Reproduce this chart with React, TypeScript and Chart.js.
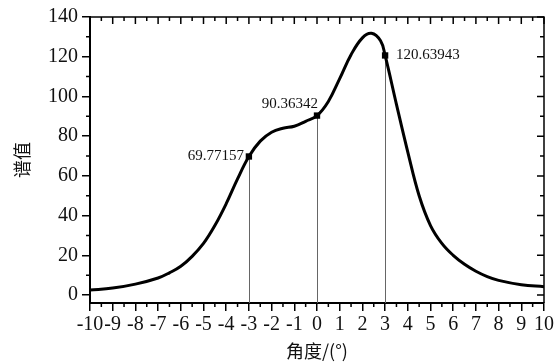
import React, { useEffect, useRef } from "react";
import { Chart, registerables } from "chart.js";

Chart.register(...registerables);

const angles = [-10, -9, -8, -7, -6.5, -6, -5.5, -5, -4.5, -4, -3.5, -3, -2.5, -2, -1.5, -1, -0.5, 0, 0.5, 1, 1.5, 2, 2.4, 2.8, 3, 3.5, 4, 4.5, 5, 5.5, 6, 6.5, 7, 7.5, 8, 9, 10];
const spectrum = [2.5, 3.5, 5.5, 8.6, 11.2, 14.5, 19.5, 26, 35, 46, 58.5, 69.77157, 77.5, 82, 84, 85, 87.5, 90.36342, 97.5, 109, 121, 129.5, 131.8, 128, 120.63943, 96, 72, 50, 35, 26, 20, 15.5, 12, 9.3, 7.4, 5.2, 4.2];

const markerAngles = [-3, 0, 3];
const markerValues = [69.77157, 90.36342, 120.63943];
const markerLabels = ["69.77157", "90.36342", "120.63943"];

const xTicks = [-10, -9, -8, -7, -6, -5, -4, -3, -2, -1, 0, 1, 2, 3, 4, 5, 6, 7, 8, 9, 10];
const yTicks = [0, 20, 40, 60, 80, 100, 120, 140];

const SERIF = "'Liberation Serif', 'Times New Roman', serif";

const axesPlugin = {
  id: "axesDecor",
  beforeDatasetsDraw(chart: any) {
    const { ctx, chartArea, scales } = chart;
    const x = scales.x, y = scales.y;
    ctx.save();
    ctx.strokeStyle = "#666";
    ctx.lineWidth = 1;
    markerAngles.forEach((a, i) => {
      const px = Math.round(x.getPixelForValue(a)) + 0.5;
      ctx.beginPath();
      ctx.moveTo(px, y.getPixelForValue(markerValues[i]));
      ctx.lineTo(px, chartArea.bottom);
      ctx.stroke();
    });
    ctx.restore();
  },
  afterDraw(chart: any) {
    const { ctx, chartArea, scales } = chart;
    const x = scales.x, y = scales.y;
    const { left, right, top, bottom } = chartArea;
    ctx.save();
    ctx.strokeStyle = "#000";
    ctx.lineWidth = 1.5;
    ctx.beginPath();
    ctx.moveTo(left, top);
    ctx.lineTo(right, top);
    ctx.lineTo(right, bottom);
    ctx.stroke();
    const xMinor: number[] = [];
    for (let i = 0; i < xTicks.length - 1; i++) xMinor.push((xTicks[i] + xTicks[i + 1]) / 2);
    ctx.beginPath();
    xMinor.forEach((v) => {
      const px = x.getPixelForValue(v);
      ctx.moveTo(px, bottom);
      ctx.lineTo(px, bottom + 4);
      ctx.moveTo(px, top);
      ctx.lineTo(px, top + 4);
    });
    xTicks.forEach((v) => {
      const px = x.getPixelForValue(v);
      ctx.moveTo(px, top);
      ctx.lineTo(px, top + 7);
    });
    const yMinor: number[] = [];
    for (let i = 0; i < yTicks.length - 1; i++) yMinor.push((yTicks[i] + yTicks[i + 1]) / 2);
    yMinor.forEach((v) => {
      const py = y.getPixelForValue(v);
      ctx.moveTo(left, py);
      ctx.lineTo(left - 4, py);
      ctx.moveTo(right, py);
      ctx.lineTo(right - 4, py);
    });
    yTicks.forEach((v) => {
      const py = y.getPixelForValue(v);
      ctx.moveTo(right, py);
      ctx.lineTo(right - 7, py);
    });
    ctx.stroke();

    ctx.fillStyle = "#111";
    ctx.font = "15px " + SERIF;
    markerAngles.forEach((a, i) => {
      const px = x.getPixelForValue(a);
      const py = y.getPixelForValue(markerValues[i]);
      if (i === 0) {
        ctx.textAlign = "right";
        ctx.textBaseline = "middle";
        ctx.fillText(markerLabels[i], px - 5, py);
      } else if (i === 1) {
        ctx.textAlign = "right";
        ctx.textBaseline = "alphabetic";
        ctx.fillText(markerLabels[i], px + 1, py - 8);
      } else {
        ctx.textAlign = "left";
        ctx.textBaseline = "middle";
        ctx.fillText(markerLabels[i], px + 11, py);
      }
    });
    ctx.restore();
  },
};

export default function App() {
  const ref = useRef<HTMLCanvasElement | null>(null);
  useEffect(() => {
    if (!ref.current) return;
    const chart = new Chart(ref.current, {
      type: "line",
      data: {
        datasets: [
          {
            data: angles.map((a, i) => ({ x: a, y: spectrum[i] })),
            borderColor: "#000",
            borderWidth: 3,
            pointRadius: 0,
            tension: 0.4,
            fill: false,
          },
          {
            data: markerAngles.map((a, i) => ({ x: a, y: markerValues[i] })),
            showLine: false,
            pointStyle: "rect",
            pointRadius: 4.5,
            backgroundColor: "#000",
            borderColor: "#000",
            borderWidth: 0,
          },
        ],
      },
      options: {
        animation: false,
        responsive: true,
        maintainAspectRatio: false,
        layout: { padding: { top: 17, right: 13, left: 0, bottom: 0 } },
        plugins: { legend: { display: false }, tooltip: { enabled: false } },
        scales: {
          x: {
            type: "linear",
            min: -10,
            max: 10,
            afterBuildTicks: (s: any) => {
              s.ticks = xTicks.map((v) => ({ value: v }));
            },
            afterFit: (s: any) => {
              s.height = 59;
            },
            ticks: {
              autoSkip: false,
              maxRotation: 0,
              color: "#111",
              padding: 2,
              font: { family: SERIF, size: 20 },
              callback: (v: any) => String(v),
            },
            grid: { drawOnChartArea: false, drawTicks: true, tickLength: 8, color: "#000", lineWidth: 1.5 },
            border: { display: true, color: "#000", width: 2 },
            title: {
              display: true,
              text: "角度/(°)",
              color: "#111",
              font: { family: "'Noto Sans CJK SC', " + SERIF, size: 18 },
              padding: { top: 0, bottom: 0 },
            },
          },
          y: {
            type: "linear",
            min: -4,
            max: 140,
            afterBuildTicks: (s: any) => {
              s.ticks = yTicks.map((v) => ({ value: v }));
            },
            afterFit: (s: any) => {
              s.width = 90;
            },
            ticks: {
              color: "#111",
              padding: 4,
              font: { family: SERIF, size: 20 },
              callback: (v: any) => String(v),
            },
            grid: { drawOnChartArea: false, drawTicks: true, tickLength: 8, color: "#000", lineWidth: 1.5 },
            border: { display: true, color: "#000", width: 2 },
            title: {
              display: true,
              text: "谱值",
              color: "#111",
              font: { family: "'Noto Sans CJK SC', " + SERIF, size: 18 },
              padding: { top: 11, bottom: 0 },
            },
          },
        },
      },
      plugins: [axesPlugin],
    });
    return () => chart.destroy();
  }, []);
  return (
    <div style={{ position: "absolute", left: 0, top: 0, width: 557, height: 362, background: "#fff" }}>
      <canvas ref={ref} />
    </div>
  );
}
